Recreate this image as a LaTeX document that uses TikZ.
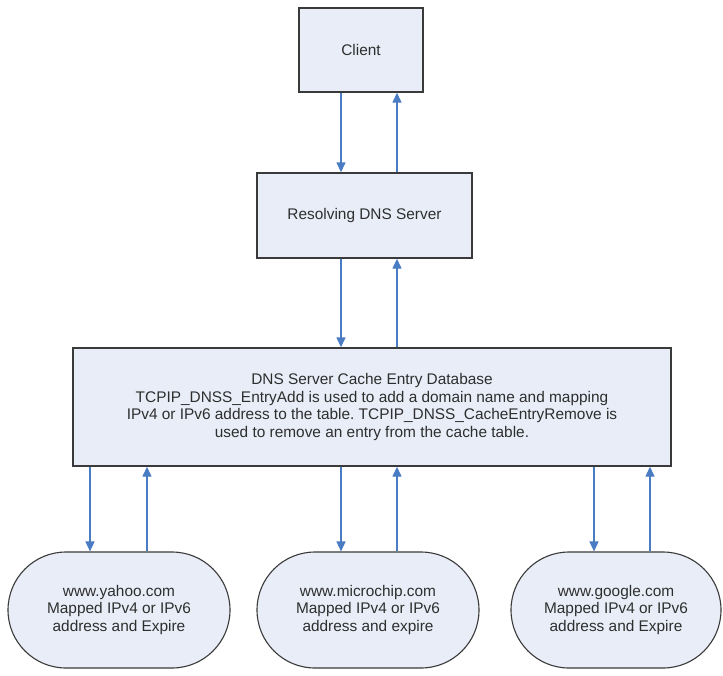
\documentclass[tikz,border=0pt]{standalone}
\usepackage{fontspec}
\setmainfont{Liberation Sans}
\usetikzlibrary{arrows.meta,shapes.misc}
\definecolor{boxfill}{HTML}{E8EDF7}
\definecolor{boxdraw}{HTML}{3A3A3A}
\definecolor{arrowblue}{HTML}{4A7CC4}
\definecolor{txt}{HTML}{2E2E2E}
\tikzset{
  box/.style={draw=boxdraw, line width=1.4pt, fill=boxfill, inner sep=0pt, align=center,
    text=txt, font=\fontsize{15.4}{17.8}\selectfont},
  oval/.style={box, rounded rectangle, line width=1.1pt},
  flow/.style={draw=arrowblue, line width=1.4pt, -{Triangle[width=9pt,length=10pt]}}
}
\frenchspacing
\begin{document}
\begin{tikzpicture}[x=1pt,y=-1pt]
\useasboundingbox[fill=white] (0,0) rectangle (723,675);
\node[box, minimum width=124pt, minimum height=84pt] (client) at (361,50) {Client};
\node[box, minimum width=215pt, minimum height=85pt] (resolver) at (364.5,215.5) {Resolving DNS Server};
\node[box, minimum width=598pt, minimum height=118pt] (db) at (372,407)
  {DNS Server Cache Entry Database\\
   TCPIP\_DNSS\_EntryAdd is used to add a domain name and mapping\\
   IPv4 or IPv6 address to the table. TCPIP\_DNSS\_CacheEntryRemove is\\
   used to remove an entry from the cache table.};
\node[oval, minimum width=222pt, minimum height=116pt] (yahoo) at (119,610)
  {www.yahoo.com\\Mapped IPv4 or IPv6\\address and Expire};
\node[oval, minimum width=222pt, minimum height=116pt] (micro) at (368,610)
  {www.microchip.com\\Mapped IPv4 or IPv6\\address and expire};
\node[oval, minimum width=210pt, minimum height=116pt] (google) at (616,610)
  {www.google.com\\Mapped IPv4 or IPv6\\address and Expire};
% client <-> resolver
\draw[flow] (client.south -| 341,0) -- (resolver.north -| 341,0);
\draw[flow] (resolver.north -| 397,0) -- (client.south -| 397,0);
% resolver <-> db
\draw[flow] (resolver.south -| 341,0) -- (db.north -| 341,0);
\draw[flow] (db.north -| 397,0) -- (resolver.south -| 397,0);
% db <-> ovals
\draw[flow] (db.south -| 90,0) -- (yahoo.north -| 90,0);
\draw[flow] (yahoo.north -| 147,0) -- (db.south -| 147,0);
\draw[flow] (db.south -| 341,0) -- (micro.north -| 341,0);
\draw[flow] (micro.north -| 397,0) -- (db.south -| 397,0);
\draw[flow] (db.south -| 594,0) -- (google.north -| 594,0);
\draw[flow] (google.north -| 650,0) -- (db.south -| 650,0);
\end{tikzpicture}
\end{document}
